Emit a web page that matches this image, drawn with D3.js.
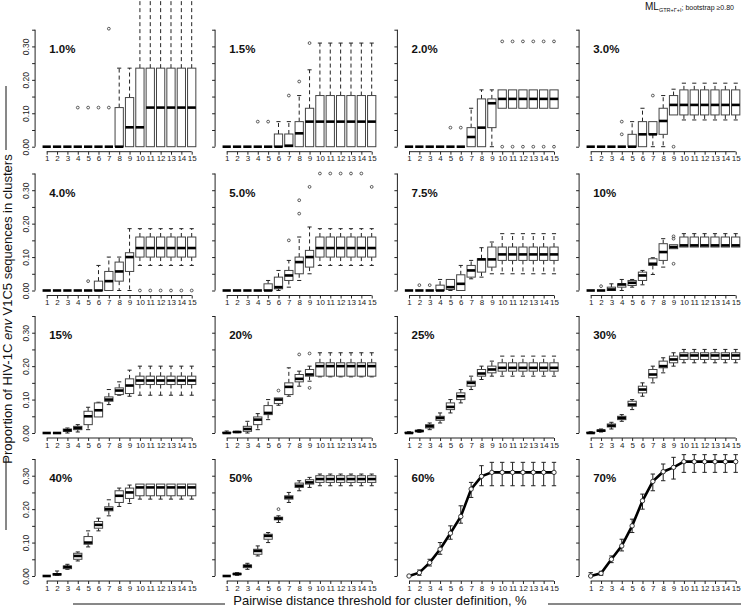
<!DOCTYPE html>
<html>
<head>
<meta charset="utf-8">
<script src="https://cdn.jsdelivr.net/npm/d3@7"></script>
<style>
  body { margin: 0; background: #fff; }
  svg { display: block; font-family: "Liberation Sans", Arial, sans-serif; }
</style>
</head>
<body>
<div id="chart"></div>
<script>
// thresholds on the x axis (pairwise distance, %)
var thresholds = [1, 2, 3, 4, 5, 6, 7, 8, 9, 10, 11, 12, 13, 14, 15];
var panelLabels = ['1.0%', '1.5%', '2.0%', '3.0%', '4.0%', '5.0%', '7.5%', '10%',
                   '15%', '20%', '25%', '30%', '40%', '50%', '60%', '70%'];
var yTicks = [0, 0.05, 0.10, 0.15, 0.20, 0.25, 0.30, 0.35];
var yTickLabels = ['0.00', '', '0.10', '', '0.20', '', '0.30', ''];

// boxplot stats per threshold: [lower whisker, q1, median, q3, upper whisker]
var z = [0, 0, 0, 0, 0];
var box1_0 = [z, z, z, z, z, z, z,
  [0, 0, 0, 0.117, 0.235], [0, 0, 0.058, 0.147, 0.235], [0, 0, 0.058, 0.235, 0.47],
  [0, 0, 0.117, 0.235, 0.47], [0, 0, 0.117, 0.235, 0.47], [0, 0, 0.117, 0.235, 0.47],
  [0, 0, 0.117, 0.235, 0.47], [0, 0, 0.117, 0.235, 0.47]];
var out1_0 = [[4, 0.117], [5, 0.117], [6, 0.117], [7, 0.117], [7, 0.353]];

var box1_5 = [z, z, z, z, z,
  [0, 0, 0, 0.038, 0.075], [0, 0, 0.003, 0.038, 0.075], [0, 0, 0.04, 0.075, 0.153],
  [0, 0, 0.075, 0.115, 0.23], [0, 0, 0.075, 0.153, 0.31], [0, 0, 0.075, 0.153, 0.31],
  [0, 0, 0.075, 0.153, 0.31], [0, 0, 0.075, 0.153, 0.31], [0, 0, 0.075, 0.153, 0.31],
  [0, 0, 0.075, 0.153, 0.31]];
var out1_5 = [[4, 0.075], [5, 0.075], [7, 0.153], [8, 0.195], [9, 0.31]];

var box2_0 = [z, z, z, z, z, z,
  [0, 0, 0.029, 0.057, 0.115], [0, 0, 0.057, 0.143, 0.17], [0, 0.057, 0.13, 0.143, 0.17],
  [0.115, 0.115, 0.143, 0.17, 0.17], [0.115, 0.115, 0.143, 0.17, 0.17], [0.115, 0.115, 0.143, 0.17, 0.17],
  [0.115, 0.115, 0.143, 0.17, 0.17], [0.115, 0.115, 0.143, 0.17, 0.17], [0.115, 0.115, 0.143, 0.17, 0.17]];
var out2_0 = [[5, 0.057], [6, 0.057],
  [10, 0], [11, 0], [12, 0], [13, 0], [14, 0], [15, 0],
  [10, 0.315], [11, 0.315], [12, 0.315], [13, 0.315], [14, 0.315], [15, 0.315]];

var box3_0 = [z, z, z, z,
  [0, 0, 0, 0.037, 0.075], [0, 0, 0.037, 0.075, 0.115], [0, 0.037, 0.037, 0.075, 0.075],
  [0, 0.037, 0.077, 0.115, 0.153], [0.095, 0.095, 0.125, 0.153, 0.172],
  [0.08, 0.095, 0.125, 0.17, 0.19], [0.08, 0.095, 0.125, 0.17, 0.19], [0.08, 0.095, 0.125, 0.17, 0.19],
  [0.08, 0.095, 0.125, 0.17, 0.19], [0.08, 0.095, 0.125, 0.17, 0.19], [0.08, 0.095, 0.125, 0.17, 0.19]];
var out3_0 = [[4, 0.075], [4, 0.037], [7, 0.153], [9, 0]];

var box4_0 = [z, z, z, z, z,
  [0, 0, 0, 0.028, 0.075], [0, 0, 0.028, 0.057, 0.1], [0, 0.028, 0.057, 0.085, 0.1],
  [0, 0.057, 0.1, 0.113, 0.185],
  [0.075, 0.1, 0.127, 0.16, 0.185], [0.075, 0.1, 0.127, 0.16, 0.185], [0.075, 0.1, 0.127, 0.16, 0.185],
  [0.075, 0.1, 0.127, 0.16, 0.185], [0.075, 0.1, 0.127, 0.16, 0.185], [0.075, 0.1, 0.127, 0.16, 0.185]];
var out4_0 = [[5, 0.028], [10, 0], [11, 0], [12, 0], [13, 0], [14, 0], [15, 0]];

var box5_0 = [z, z, z, z,
  [0, 0, 0, 0.02, 0.03], [0, 0.005, 0.01, 0.04, 0.06], [0.01, 0.03, 0.045, 0.06, 0.09],
  [0.03, 0.05, 0.085, 0.1, 0.16], [0.05, 0.07, 0.1, 0.12, 0.19],
  [0.075, 0.1, 0.127, 0.16, 0.185], [0.075, 0.1, 0.127, 0.16, 0.185], [0.075, 0.1, 0.127, 0.16, 0.185],
  [0.075, 0.1, 0.127, 0.16, 0.185], [0.075, 0.1, 0.127, 0.16, 0.185], [0.075, 0.1, 0.127, 0.16, 0.185]];
var out5_0 = [[7, 0.15], [8, 0.23], [8, 0.27], [9, 0.31],
  [10, 0.35], [11, 0.35], [12, 0.35], [13, 0.35], [14, 0.35], [15, 0.31]];

var box7_5 = [z, z, z,
  [0, 0, 0, 0.016, 0.033], [0, 0.003, 0.01, 0.033, 0.033], [0, 0, 0.02, 0.047, 0.075],
  [0.035, 0.04, 0.06, 0.075, 0.09], [0.04, 0.055, 0.093, 0.095, 0.128], [0.05, 0.07, 0.093, 0.13, 0.145],
  [0.05, 0.09, 0.108, 0.13, 0.17], [0.05, 0.09, 0.108, 0.13, 0.17], [0.05, 0.09, 0.108, 0.13, 0.17],
  [0.05, 0.09, 0.108, 0.13, 0.17], [0.05, 0.09, 0.108, 0.13, 0.17], [0.05, 0.09, 0.108, 0.13, 0.17]];
var out7_5 = [[2, 0.016], [3, 0.016]];

var box10 = [z, z,
  [0, 0, 0.003, 0.01, 0.02], [0, 0.01, 0.018, 0.02, 0.033], [0.01, 0.015, 0.023, 0.03, 0.033],
  [0.017, 0.03, 0.045, 0.055, 0.06], [0.048, 0.075, 0.08, 0.095, 0.098], [0.07, 0.09, 0.115, 0.14, 0.155],
  [0.125, 0.125, 0.13, 0.137, 0.137],
  [0.13, 0.13, 0.135, 0.16, 0.17], [0.13, 0.13, 0.135, 0.16, 0.17], [0.13, 0.13, 0.135, 0.16, 0.17],
  [0.13, 0.13, 0.135, 0.16, 0.17], [0.13, 0.13, 0.135, 0.16, 0.17], [0.13, 0.13, 0.135, 0.16, 0.17]];
var out10 = [[2, 0.013], [9, 0.08], [9, 0.155], [9, 0.162]];

var box15 = [z, z,
  [0, 0.005, 0.008, 0.012, 0.015], [0.003, 0.01, 0.015, 0.02, 0.025], [0.01, 0.025, 0.05, 0.065, 0.077],
  [0.048, 0.048, 0.068, 0.09, 0.092], [0.085, 0.095, 0.1, 0.108, 0.13], [0.113, 0.115, 0.127, 0.135, 0.153],
  [0.11, 0.118, 0.142, 0.162, 0.188],
  [0.113, 0.145, 0.157, 0.17, 0.2], [0.113, 0.145, 0.157, 0.17, 0.2], [0.113, 0.145, 0.157, 0.17, 0.2],
  [0.113, 0.145, 0.157, 0.17, 0.2], [0.113, 0.145, 0.157, 0.17, 0.2], [0.113, 0.145, 0.157, 0.17, 0.2]];
var out15 = [];

var box20 = [[0, 0, 0, 0.002, 0.006], [0.001, 0.002, 0.003, 0.004, 0.005],
  [0, 0.005, 0.012, 0.02, 0.035], [0.01, 0.025, 0.04, 0.048, 0.058], [0.04, 0.055, 0.06, 0.082, 0.1],
  [0.083, 0.088, 0.1, 0.105, 0.105], [0.11, 0.115, 0.138, 0.15, 0.195], [0.14, 0.153, 0.162, 0.175, 0.185],
  [0.155, 0.17, 0.175, 0.19, 0.2],
  [0.168, 0.17, 0.2, 0.21, 0.24], [0.168, 0.17, 0.2, 0.21, 0.24], [0.168, 0.17, 0.2, 0.21, 0.24],
  [0.168, 0.17, 0.2, 0.21, 0.24], [0.168, 0.17, 0.2, 0.21, 0.24], [0.168, 0.17, 0.2, 0.21, 0.24]];
var out20 = [[6, 0.127], [8, 0.235], [9, 0.135], [9, 0.238]];

var box25 = [[0, 0, 0, 0.002, 0.004], [0.002, 0.004, 0.006, 0.008, 0.01],
  [0.01, 0.015, 0.02, 0.025, 0.03], [0.03, 0.038, 0.045, 0.05, 0.06], [0.06, 0.07, 0.078, 0.09, 0.1],
  [0.09, 0.1, 0.11, 0.12, 0.13], [0.13, 0.14, 0.15, 0.155, 0.17], [0.16, 0.17, 0.178, 0.19, 0.2],
  [0.17, 0.18, 0.19, 0.2, 0.215],
  [0.17, 0.185, 0.195, 0.21, 0.23], [0.17, 0.185, 0.195, 0.21, 0.23], [0.17, 0.185, 0.195, 0.21, 0.23],
  [0.17, 0.185, 0.195, 0.21, 0.23], [0.17, 0.185, 0.195, 0.21, 0.23], [0.17, 0.185, 0.195, 0.21, 0.23]];
var out25 = [];

var box30 = [[0, 0, 0, 0.002, 0.004], [0.003, 0.005, 0.007, 0.009, 0.012],
  [0.012, 0.018, 0.022, 0.027, 0.032], [0.035, 0.04, 0.045, 0.05, 0.055], [0.07, 0.08, 0.085, 0.095, 0.1],
  [0.11, 0.12, 0.13, 0.14, 0.15], [0.15, 0.165, 0.175, 0.19, 0.2], [0.18, 0.195, 0.2, 0.215, 0.225],
  [0.2, 0.21, 0.22, 0.23, 0.24],
  [0.21, 0.22, 0.232, 0.24, 0.25], [0.21, 0.22, 0.232, 0.24, 0.25], [0.21, 0.22, 0.232, 0.24, 0.25],
  [0.21, 0.22, 0.232, 0.24, 0.25], [0.21, 0.22, 0.232, 0.24, 0.25], [0.21, 0.22, 0.232, 0.24, 0.25]];
var out30 = [];

var box40 = [z, [0.002, 0.003, 0.005, 0.007, 0.015],
  [0.02, 0.022, 0.027, 0.03, 0.035], [0.045, 0.05, 0.06, 0.068, 0.072], [0.087, 0.095, 0.1, 0.118, 0.135],
  [0.135, 0.143, 0.153, 0.163, 0.173], [0.18, 0.195, 0.2, 0.207, 0.228], [0.208, 0.22, 0.24, 0.255, 0.263],
  [0.217, 0.232, 0.25, 0.263, 0.272],
  [0.23, 0.24, 0.265, 0.275, 0.275], [0.23, 0.24, 0.265, 0.275, 0.275], [0.23, 0.24, 0.265, 0.275, 0.275],
  [0.23, 0.24, 0.265, 0.275, 0.275], [0.23, 0.24, 0.265, 0.275, 0.275], [0.23, 0.24, 0.265, 0.275, 0.275]];
var out40 = [];

var box50 = [z, [0.002, 0.004, 0.006, 0.008, 0.01],
  [0.02, 0.025, 0.03, 0.033, 0.038], [0.06, 0.065, 0.075, 0.08, 0.09], [0.1, 0.11, 0.12, 0.125, 0.13],
  [0.16, 0.168, 0.172, 0.176, 0.18], [0.22, 0.23, 0.235, 0.24, 0.25], [0.255, 0.265, 0.27, 0.278, 0.285],
  [0.265, 0.275, 0.28, 0.288, 0.295],
  [0.27, 0.28, 0.29, 0.3, 0.305], [0.27, 0.28, 0.29, 0.3, 0.305], [0.27, 0.28, 0.29, 0.3, 0.305],
  [0.27, 0.28, 0.29, 0.3, 0.305], [0.27, 0.28, 0.29, 0.3, 0.305], [0.27, 0.28, 0.29, 0.3, 0.305]];
var out50 = [[6, 0.2]];

// 60% and 70%: mean with error bar
var mean60 = [0, 0.01, 0.04, 0.08, 0.128, 0.178, 0.26, 0.298, 0.31, 0.31, 0.31, 0.31, 0.31, 0.31, 0.31];
var lo60 = [0, 0.002, 0.03, 0.065, 0.11, 0.158, 0.235, 0.27, 0.27, 0.27, 0.27, 0.27, 0.27, 0.27, 0.27];
var hi60 = [0, 0.018, 0.05, 0.1, 0.15, 0.21, 0.28, 0.33, 0.34, 0.34, 0.34, 0.34, 0.34, 0.34, 0.34];
var mean70 = [0, 0.008, 0.05, 0.09, 0.15, 0.225, 0.283, 0.312, 0.325, 0.342, 0.342, 0.342, 0.342, 0.342, 0.342];
var lo70 = [0, 0.002, 0.04, 0.075, 0.13, 0.2, 0.255, 0.285, 0.29, 0.31, 0.31, 0.31, 0.31, 0.31, 0.31];
var hi70 = [0.01, 0.014, 0.06, 0.11, 0.17, 0.245, 0.305, 0.335, 0.355, 0.363, 0.363, 0.363, 0.363, 0.363, 0.363];

var boxPanels = [[box1_0, out1_0], [box1_5, out1_5], [box2_0, out2_0], [box3_0, out3_0],
                 [box4_0, out4_0], [box5_0, out5_0], [box7_5, out7_5], [box10, out10],
                 [box15, out15], [box20, out20], [box25, out25], [box30, out30],
                 [box40, out40], [box50, out50]];
var linePanels = [[mean60, lo60, hi60], [mean70, lo70, hi70]];

var width = 741, height = 611;
var firstX = [46.7, 226.7, 409, 590.7];   // x of threshold 1 in each column
var zeroY = [146.7, 290.5, 433, 576];     // y of 0.00 in each row
var span = 145, yH = 117;

var svg = d3.select('#chart').append('svg')
  .attr('width', width).attr('height', height);

function panel(i) {
  var col = i % 4, row = Math.floor(i / 4);
  var x = d3.scaleLinear().domain([1, 15]).range([firstX[col], firstX[col] + span]);
  var y = d3.scaleLinear().domain([0, 0.35]).range([zeroY[row], zeroY[row] - yH]);
  var g = svg.append('g');
  var step = span / 14;

  // x axis
  var xAxis = d3.axisBottom(x).tickValues(thresholds).tickSize(3).tickPadding(1)
    .tickFormat(d3.format('d'));
  var gx = g.append('g').attr('transform', 'translate(0,' + (zeroY[row] + 5) + ')').call(xAxis);
  gx.selectAll('text').attr('font-size', 8).attr('fill', '#222');
  gx.select('.domain').attr('d', 'M' + x(1) + ',0H' + x(15));

  // y axis
  var yAxis = d3.axisLeft(y).tickValues(yTicks).tickSize(3)
    .tickFormat(function (d, k) { return col === 0 ? yTickLabels[k] : ''; });
  var axX = firstX[col] - step * 1.12;
  var gy = g.append('g').attr('transform', 'translate(' + axX + ',0)').call(yAxis);
  gy.select('.domain').attr('d', 'M0,' + y(0) + 'V' + y(0.35));
  gy.selectAll('text').attr('font-size', 8.5).attr('fill', '#222')
    .attr('text-anchor', 'middle')
    .attr('transform', 'rotate(-90)')
    .attr('x', 0).attr('y', -6).attr('dy', 0);
  g.selectAll('.tick line').attr('stroke', '#222');
  g.selectAll('.domain').attr('stroke', '#222');

  // panel label
  g.append('text').attr('x', x(1) + 2.5).attr('y', y(0.35) + 23)
    .attr('font-size', 11.5).attr('font-weight', 'bold').attr('fill', '#111')
    .text(panelLabels[i]);

  var bw = step * 0.8;
  if (i < 14) {
    var stats = boxPanels[i][0], outs = boxPanels[i][1];
    thresholds.forEach(function (t, k) {
      var s = stats[k], cx = x(t);
      var bx = g.append('g');
      // whiskers
      if (s[4] > s[3]) {
        bx.append('line').attr('x1', cx).attr('x2', cx).attr('y1', y(s[3])).attr('y2', y(s[4]))
          .attr('stroke', '#222').attr('stroke-dasharray', '4,3');
        bx.append('line').attr('x1', cx - bw / 4).attr('x2', cx + bw / 4)
          .attr('y1', y(s[4])).attr('y2', y(s[4])).attr('stroke', '#222');
      }
      if (s[0] < s[1]) {
        bx.append('line').attr('x1', cx).attr('x2', cx).attr('y1', y(s[1])).attr('y2', y(s[0]))
          .attr('stroke', '#222').attr('stroke-dasharray', '4,3');
        bx.append('line').attr('x1', cx - bw / 4).attr('x2', cx + bw / 4)
          .attr('y1', y(s[0])).attr('y2', y(s[0])).attr('stroke', '#222');
      }
      bx.append('rect').attr('x', cx - bw / 2).attr('width', bw)
        .attr('y', y(s[3])).attr('height', Math.max(0, y(s[1]) - y(s[3])))
        .attr('fill', '#fff').attr('stroke', '#444').attr('stroke-width', 1);
      bx.append('line').attr('x1', cx - bw / 2).attr('x2', cx + bw / 2)
        .attr('y1', y(s[2])).attr('y2', y(s[2]))
        .attr('stroke', '#000').attr('stroke-width', 2.6);
    });
    g.selectAll('circle.out').data(outs).enter().append('circle')
      .attr('cx', function (d) { return x(d[0]); })
      .attr('cy', function (d) { return y(d[1]); })
      .attr('r', 1.4).attr('fill', 'none').attr('stroke', '#333').attr('stroke-width', 0.8);
  } else {
    var ln = linePanels[i - 14];
    var m = ln[0], lo = ln[1], hi = ln[2];
    thresholds.forEach(function (t, k) {
      if (hi[k] - lo[k] > 0.004) {
        g.append('line').attr('x1', x(t)).attr('x2', x(t)).attr('y1', y(lo[k])).attr('y2', y(hi[k]))
          .attr('stroke', '#222').attr('stroke-width', 1);
        [lo[k], hi[k]].forEach(function (v) {
          g.append('line').attr('x1', x(t) - 2.2).attr('x2', x(t) + 2.2).attr('y1', y(v)).attr('y2', y(v))
            .attr('stroke', '#222').attr('stroke-width', 1);
        });
      }
    });
    var line = d3.line().x(function (d, k) { return x(thresholds[k]); }).y(function (d) { return y(d); });
    g.append('path').datum(m).attr('d', line).attr('fill', 'none')
      .attr('stroke', '#000').attr('stroke-width', 2.6);
    g.selectAll('circle.pt').data(m).enter().append('circle')
      .attr('cx', function (d, k) { return x(thresholds[k]); })
      .attr('cy', function (d) { return y(d); })
      .attr('r', 2.2).attr('fill', '#fff').attr('stroke', '#222').attr('stroke-width', 0.9);
  }
}

for (var i = 0; i < 16; i++) panel(i);

// outer labels
svg.append('text').attr('transform', 'translate(12,309) rotate(-90)')
  .attr('text-anchor', 'middle').attr('font-size', 13).attr('fill', '#111')
  .html('Proportion of HIV-1C <tspan font-style="italic">env</tspan> V1C5 sequences in clusters');
svg.append('text').attr('x', 380).attr('y', 605)
  .attr('text-anchor', 'middle').attr('font-size', 13).attr('fill', '#111')
  .text('Pairwise distance threshold for cluster definition, %');

var deco = [[6, 86, 6, 150], [6, 458, 6, 530], [73, 604, 225, 604], [548, 604, 741, 604]];
deco.forEach(function (d) {
  svg.append('line').attr('x1', d[0]).attr('y1', d[1]).attr('x2', d[2]).attr('y2', d[3])
    .attr('stroke', '#111').attr('stroke-width', 1);
});

var note = svg.append('text').attr('x', 645).attr('y', 10).attr('fill', '#111');
note.append('tspan').attr('font-size', 10).text('ML');
note.append('tspan').attr('font-size', 5.5).attr('dy', 2).text('GTR+\u0393+I');
note.append('tspan').attr('font-size', 7).attr('dy', -2).text('; bootstrap \u22650.80');
</script>
</body>
</html>
